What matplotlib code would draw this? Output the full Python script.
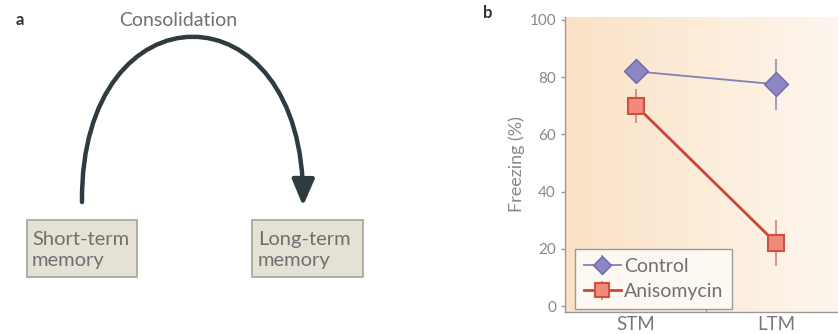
import numpy as np
import matplotlib.pyplot as plt
from matplotlib.patches import FancyArrowPatch, Rectangle
from matplotlib.path import Path
from matplotlib.colors import LinearSegmentedColormap

plt.rcParams['font.family'] = ['Lato', 'DejaVu Sans']

# data for panel b
conditions = ['STM', 'LTM']
control = [82, 77.5]
control_err = [2, 9]
aniso = [70, 22]
aniso_err = [6, 8]
yticks = [0, 20, 40, 60, 80, 100]

fig = plt.figure(figsize=(8.38, 3.34), dpi=100)

# panel a: drawn in pixel coords on a full-figure axes
axa = fig.add_axes([0, 0, 1, 1])
axa.set_xlim(0, 838)
axa.set_ylim(334, 0)
axa.axis('off')

axa.text(20, 20, 'a', fontsize=12, fontweight='bold', color='#333333', ha='center', va='center')
axa.text(178, 21, 'Consolidation', fontsize=14, color='#707070', ha='center', va='center')

arc = Path([(82, 202), (80, -18), (305, -18), (303, 206)],
           [Path.MOVETO, Path.CURVE4, Path.CURVE4, Path.CURVE4])
axa.add_patch(FancyArrowPatch(path=arc, arrowstyle='-|>,head_length=8,head_width=3.4',
                              color='#2f3b40', lw=3.2, mutation_scale=2))

box_style = dict(facecolor='#e6e1d5', edgecolor='#a5a296', lw=1.2)
axa.add_patch(Rectangle((27, 220), 110, 57, **box_style))
axa.add_patch(Rectangle((252, 220), 111, 57, **box_style))
axa.text(32, 250, 'Short-term\nmemory', fontsize=14.5, color='#707070', va='center', linespacing=1.3)
axa.text(258, 250, 'Long-term\nmemory', fontsize=14.5, color='#707070', va='center', linespacing=1.3)

axa.text(488, 13, 'b', fontsize=12, fontweight='bold', color='#333333', ha='center', va='center')

# panel b
ax = fig.add_axes([565 / 838, 22 / 334, 1 - 565 / 838, 295 / 334])
x = np.arange(len(conditions))
ax.set_xlim(-0.507, 1.44)
ax.set_ylim(-2, 101)

grad = np.linspace(0, 1, 256).reshape(1, -1)
cmap = LinearSegmentedColormap.from_list('bg', ['#fbe2c6', '#fcecd9', '#fdf6ee'])
ax.imshow(grad, extent=[-0.507, 1.44, -2, 101], aspect='auto', cmap=cmap, zorder=0)

ax.errorbar(x, control, yerr=control_err, color='#8580b3', lw=1.3, marker='D', ms=12,
            mfc='#8d86c4', mec='#6f68a6', mew=1, ecolor='#9a94c4', elinewidth=1.3,
            capsize=0, label='Control', zorder=3)
ax.errorbar(x, aniso, yerr=aniso_err, color='#c8453a', lw=2, marker='s', ms=12,
            mfc='#f28a7b', mec='#d0503f', mew=1.5, ecolor='#d98a7e', elinewidth=1.3,
            capsize=0, label='Anisomycin', zorder=3)

for s in ['top', 'right']:
    ax.spines[s].set_visible(False)
for s in ['left', 'bottom']:
    ax.spines[s].set_color('#999999')
    ax.spines[s].set_linewidth(1)

ax.set_yticks(yticks)
ax.tick_params(axis='y', colors='#999999', labelcolor='#888888', labelsize=11, length=3, width=1)
ax.set_xticks([0.5])
ax.set_xticklabels([''])
ax.tick_params(axis='x', direction='in', length=4, colors='#888888')
ax.set_xticks(x, minor=True)
ax.set_xticklabels(conditions, minor=True)
ax.tick_params(axis='x', which='minor', length=0, labelsize=13.5, labelcolor='#777777', pad=3)
ax.set_ylabel('Freezing (%)', fontsize=13, color='#888888', labelpad=3)

leg = ax.legend(loc='lower left', bbox_to_anchor=(0.037, 0.01), borderaxespad=0, fontsize=14,
                frameon=True, fancybox=False, handlelength=1.9, handletextpad=0.15,
                borderpad=0.45, labelspacing=0.45, markerscale=0.8)
leg.get_frame().set_edgecolor('#999999')
leg.get_frame().set_facecolor('#fdf8f2')
leg.get_frame().set_alpha(1)
for t in leg.get_texts():
    t.set_color('#707070')

fig.savefig('out.png', dpi=100)
